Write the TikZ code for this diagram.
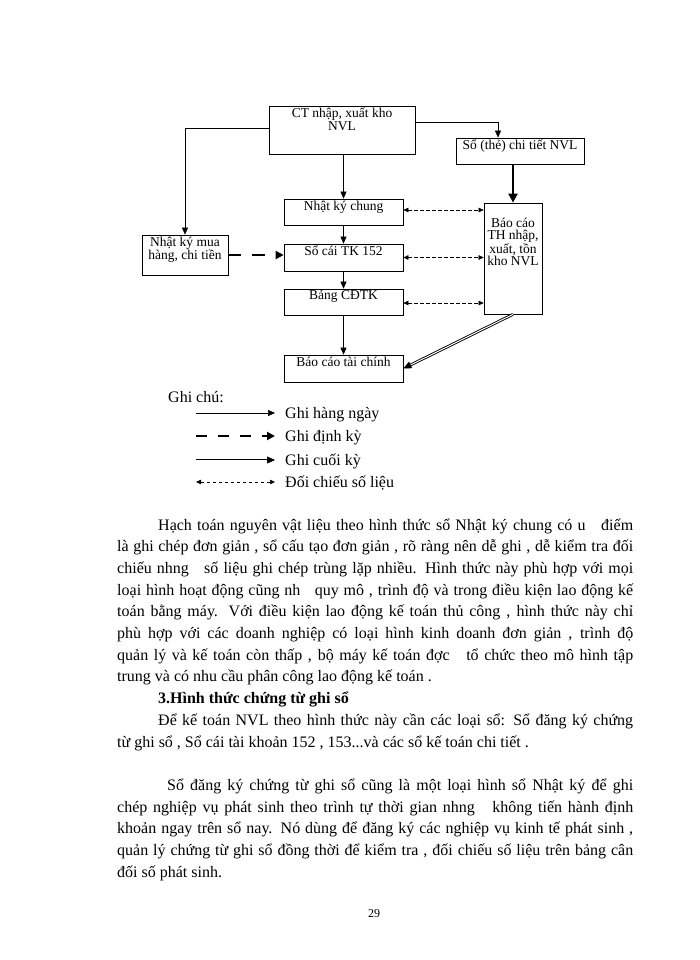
\documentclass[tikz,border=0pt]{standalone}
\usepackage{fontspec}
\setmainfont{Liberation Serif}
\usetikzlibrary{arrows.meta,calc,positioning}
\newcommand{\canle}[2]{\makebox[#1][s]{#2}}

\begin{document}
\begin{tikzpicture}[x=1pt,y=-1pt,
  hop/.style={draw, line width=0.7pt, inner sep=0pt},
  chu/.style={anchor=north, align=center, inner sep=2pt, font=\fontsize{13.5}{12.5}\selectfont},
  hangngay/.style={line width=0.6pt, -{Triangle[length=7pt,width=6pt]}},
  dinhky/.style={line width=2.6pt, dash pattern=on 13pt off 11pt, -{Triangle[length=8pt,width=8pt]}},
  dam/.style={line width=2.4pt, -{Triangle[length=9pt,width=9pt]}},
  cuoiky/.style={double, line width=0.9pt, double distance=1pt},
  doichieu/.style={line width=0.5pt, dash pattern=on 3.5pt off 2.5pt,
    {Triangle[length=5pt,width=4.5pt]}-{Triangle[length=5pt,width=4.5pt]}},
  chuthich/.style={anchor=base west, inner sep=0pt, font=\fontsize{16}{18}\selectfont},
  dong/.style={anchor=base west, inner sep=0pt, font=\fontsize{16}{18}\selectfont}]
  \useasboundingbox (0,0) rectangle (700,960);

  % so do
  \node[hop, minimum width=146pt, minimum height=48pt,
    label={[chu]north:CT nhập, xuất kho\\NVL}] (ct) at (342,130) {};
  \node[hop, minimum width=128pt, minimum height=26pt,
    label={[chu]north:Sổ (thẻ) chi tiết NVL}] (sct) at (520,151) {};
  \node[hop, minimum width=119pt, minimum height=26pt,
    label={[chu]north:Nhật ký chung}] (nkc) at (343.5,212) {};
  \node[hop, minimum width=119pt, minimum height=27pt,
    label={[chu]north:Sổ cái TK 152}] (sc) at (343.5,257.5) {};
  \node[hop, minimum width=119pt, minimum height=26pt,
    label={[chu]north:Bảng CĐTK}] (bcd) at (343.5,302) {};
  \node[hop, minimum width=119pt, minimum height=27pt,
    label={[chu]north:Báo cáo tài chính}] (bctc) at (343.5,368.5) {};
  \node[hop, minimum width=86pt, minimum height=40pt,
    label={[chu]north:Nhật ký mua\\hàng, chi tiền}] (nkm) at (185,255) {};
  \node[hop, minimum width=58pt, minimum height=111pt,
    label={[chu, yshift=-13pt]north:Báo cáo\\TH nhập,\\xuất, tồn\\kho NVL}] (bcth) at (513,258.5) {};

  \draw[hangngay] ([yshift=2pt]ct.west) -| (nkm.north);
  \draw[hangngay] ([yshift=8pt]ct.east) -| ([xshift=-22pt]sct.north);
  \draw[hangngay] (ct.south -| nkc.north) -- (nkc.north);
  \draw[hangngay] (nkc) -- (sc);
  \draw[hangngay] (sc) -- (bcd);
  \draw[hangngay] (bcd) -- (bctc);
  \draw[dam] (sct.south -| bcth.north) -- (bcth.north);
  \draw[dinhky] (nkm.east) -- (nkm.east -| sc.west);
  \draw[doichieu] ([yshift=2pt]nkc.east) -- ([yshift=2pt]nkc.east -| bcth.west);
  \draw[doichieu] (sc.east) -- (sc.east -| bcth.west);
  \draw[doichieu] ([yshift=-1pt]bcd.east) -- ([yshift=-1pt]bcd.east -| bcth.west);
  \draw[cuoiky, shorten >=7pt] (bcth.south) -- (bctc.east);
  \draw[line width=0.5pt, -{Triangle[length=8pt,width=7pt]}] ($(bctc.east)!8pt!(bcth.south)$) -- (bctc.east);

  % ghi chu
  \node[chuthich] (ghichu) at (168,402) {Ghi chú:};
  \coordinate (a1) at (196,413); \coordinate (b1) at (275,413);
  \coordinate (a2) at (196,436); \coordinate (b2) at (275,436);
  \coordinate (a3) at (196,460); \coordinate (b3) at (275,460);
  \coordinate (a4) at (196,482); \coordinate (b4) at (275,482);
  \draw[hangngay] (a1) -- (b1);
  \draw[dinhky, dash pattern=on 11pt off 11pt] (a2) -- (b2);
  \draw[cuoiky, shorten >=7pt] (a3) -- (b3);
  \draw[line width=0.5pt, -{Triangle[length=8pt,width=7pt]}] ($(b3)+(-8,0)$) -- (b3);
  \draw[doichieu] (a4) -- (b4);
  \node[chuthich] (t1) at (285,418) {Ghi hàng ngày};
  \node[chuthich] (t2) at (285,441) {Ghi định kỳ};
  \node[chuthich] (t3) at (285,465) {Ghi cuối kỳ};
  \node[chuthich] (t4) at (285,487) {Đối chiếu số liệu};

  % van ban
  \node[dong] (d1) at (158,530) {\canle{475pt}{Hạch toán nguyên vật liệu theo hình thức sổ Nhật ký chung có u\ \ \ điểm}};
  \node[dong] (d2) at (117,551.7) {\canle{516pt}{là ghi chép đơn giản , sổ cấu tạo đơn giản , rõ ràng nên dễ ghi , dễ kiểm tra đối}};
  \node[dong] (d3) at (117,573.4) {\canle{516pt}{chiếu nhng\ \ \ số liệu ghi chép trùng lặp nhiều. Hình thức này phù hợp với mọi}};
  \node[dong] (d4) at (117,595.1) {\canle{516pt}{loại hình hoạt động cũng nh\ \ \ quy mô , trình độ và trong điều kiện lao động kế}};
  \node[dong] (d5) at (117,616.8) {\canle{516pt}{toán bằng máy. Với điều kiện lao động kế toán thủ công , hình thức này chỉ}};
  \node[dong] (d6) at (117,638.5) {\canle{516pt}{phù hợp với các doanh nghiệp có loại hình kinh doanh đơn giản , trình độ}};
  \node[dong] (d7) at (117,660.2) {\canle{516pt}{quản lý và kế toán còn thấp , bộ máy kế toán đợc\ \ \ tổ chức theo mô hình tập}};
  \node[dong] (d8) at (117,681.9) {trung và có nhu cầu phân công lao động kế toán .};
  \node[dong, font=\fontsize{16}{18}\selectfont\bfseries] (d9) at (158,703.6) {3.Hình thức chứng từ ghi sổ};
  \node[dong] (d10) at (158,725.3) {\canle{475pt}{Để kế toán NVL theo hình thức này cần các loại sổ: Sổ đăng ký chứng}};
  \node[dong] (d11) at (117,747) {từ ghi sổ , Sổ cái tài khoản 152 , 153...và các sổ kế toán chi tiết .};
  \node[dong] (d12) at (167,790.4) {\canle{466pt}{Sổ đăng ký chứng từ ghi sổ cũng là một loại hình sổ Nhật ký để ghi}};
  \node[dong] (d13) at (117,812.1) {\canle{516pt}{chép nghiệp vụ phát sinh theo trình tự thời gian nhng\ \ \ không tiến hành định}};
  \node[dong] (d14) at (117,833.8) {\canle{516pt}{khoản ngay trên sổ nay. Nó dùng để đăng ký các nghiệp vụ kinh tế phát sinh ,}};
  \node[dong] (d15) at (117,855.5) {\canle{516pt}{quản lý chứng từ ghi sổ đồng thời để kiểm tra , đối chiếu số liệu trên bảng cân}};
  \node[dong] (d16) at (117,877.2) {đối số phát sinh.};
  \node[font=\fontsize{12}{14}\selectfont, inner sep=0pt] (trang) at (374,914) {29};
\end{tikzpicture}
\end{document}
